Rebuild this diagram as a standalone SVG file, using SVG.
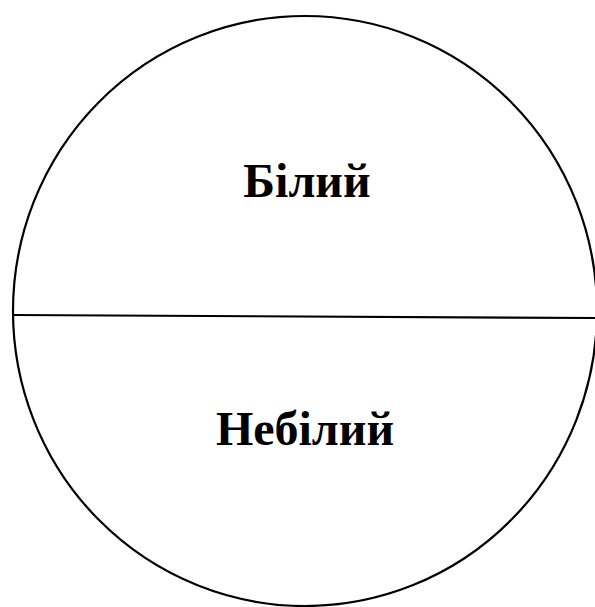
<svg xmlns="http://www.w3.org/2000/svg" width="595" height="607" viewBox="0 0 595 607">
<style>
.shape{fill:none;stroke:#000;stroke-width:2.2}
.lbl{font-family:"Liberation Serif","Times New Roman",serif;font-weight:bold;font-size:48px;fill:#000;text-anchor:middle}
</style>
<rect width="595" height="607" fill="#fff"/>
<g id="circle">
<ellipse class="shape" cx="305" cy="311" rx="292" ry="295"/>
</g>
<g id="connectors">
<line class="shape" x1="13" y1="315" x2="595" y2="318"/>
</g>
<g id="white">
<text class="lbl" x="307" y="197">Білий</text>
</g>
<g id="nonwhite">
<text class="lbl" x="305" y="445">Небілий</text>
</g>
</svg>
